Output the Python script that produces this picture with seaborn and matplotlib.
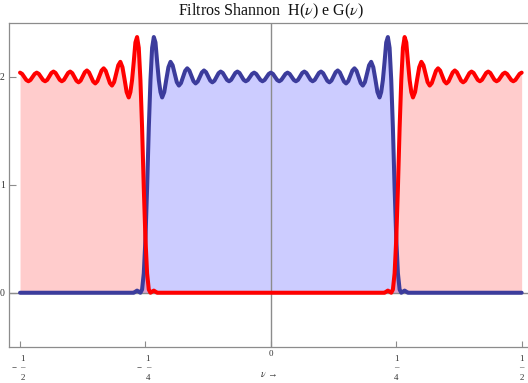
import matplotlib
matplotlib.use("Agg")
import matplotlib.pyplot as plt
import seaborn as sns

# Low-pass Shannon filter H(nu): level ~2 on |nu| < 1/4 with Gibbs ripples
nu_h = [-0.5000, -0.2733, -0.2700, -0.2667, -0.2633, -0.2600, -0.2567, -0.2533,
        -0.2500, -0.2467, -0.2433, -0.2400, -0.2367, -0.2333, -0.2300, -0.2267,
        -0.2233, -0.2200, -0.2167, -0.2125, -0.2083, -0.2042, -0.2000, -0.1958,
        -0.1875, -0.1833, -0.1792, -0.1708, -0.1667, -0.1625, -0.1542, -0.1500,
        -0.1458, -0.1375, -0.1333, -0.1292, -0.1208, -0.1167, -0.1125, -0.1042,
        -0.1000, -0.0958, -0.0875, -0.0833, -0.0792, -0.0708, -0.0667, -0.0625,
        -0.0542, -0.0500, -0.0458, -0.0375, -0.0333, -0.0292, -0.0208, -0.0167,
        -0.0125, -0.0042, 0.0000, 0.0042, 0.0125, 0.0167, 0.0208, 0.0292,
        0.0333, 0.0375, 0.0458, 0.0500, 0.0542, 0.0625, 0.0667, 0.0708,
        0.0792, 0.0833, 0.0875, 0.0958, 0.1000, 0.1042, 0.1125, 0.1167,
        0.1208, 0.1292, 0.1333, 0.1375, 0.1458, 0.1500, 0.1542, 0.1625,
        0.1667, 0.1708, 0.1792, 0.1833, 0.1875, 0.1958, 0.2000, 0.2042,
        0.2083, 0.2125, 0.2167, 0.2200, 0.2233, 0.2267, 0.2300, 0.2333,
        0.2367, 0.2400, 0.2433, 0.2467, 0.2500, 0.2533, 0.2567, 0.2600,
        0.2633, 0.2667, 0.2700, 0.2733, 0.5000]
h_vals = [0.00, 0.00, 0.01, 0.02, 0.01, 0.00, 0.03, 0.18,
          0.50, 0.97, 1.53, 1.97, 2.27, 2.37, 2.32, 2.14,
          1.97, 1.86, 1.81, 1.86, 1.98, 2.09, 2.14, 2.108,
          1.952, 1.92, 1.943, 2.057, 2.08, 2.059, 1.961, 1.94,
          1.958, 2.042, 2.06, 2.044, 1.966, 1.95, 1.965, 2.035,
          2.05, 2.037, 1.973, 1.96, 1.973, 2.037, 2.05, 2.037,
          1.973, 1.96, 1.972, 2.028, 2.04, 2.028, 1.972, 1.96,
          1.972, 2.028, 2.04, 2.028, 1.972, 1.96, 1.972, 2.028,
          2.04, 2.028, 1.972, 1.96, 1.973, 2.037, 2.05, 2.037,
          1.973, 1.96, 1.973, 2.037, 2.05, 2.035, 1.965, 1.95,
          1.966, 2.044, 2.06, 2.042, 1.958, 1.94, 1.961, 2.059,
          2.08, 2.057, 1.943, 1.92, 1.952, 2.108, 2.14, 2.09,
          1.98, 1.86, 1.81, 1.86, 1.97, 2.14, 2.32, 2.37,
          2.27, 1.97, 1.53, 0.97, 0.50, 0.18, 0.03, 0.00,
          0.01, 0.02, 0.01, 0.00, 0.00]

# High-pass Shannon filter G(nu): level ~2 on 1/4 < |nu| < 1/2
nu_g = [-0.5000, -0.4958, -0.4875, -0.4833, -0.4792, -0.4708, -0.4667, -0.4625,
        -0.4542, -0.4500, -0.4458, -0.4375, -0.4333, -0.4292, -0.4208, -0.4167,
        -0.4125, -0.4042, -0.4000, -0.3958, -0.3875, -0.3833, -0.3792, -0.3708,
        -0.3667, -0.3625, -0.3542, -0.3500, -0.3458, -0.3375, -0.3333, -0.3292,
        -0.3208, -0.3167, -0.3125, -0.3042, -0.3000, -0.2958, -0.2917, -0.2875,
        -0.2833, -0.2800, -0.2767, -0.2733, -0.2700, -0.2667, -0.2633, -0.2600,
        -0.2567, -0.2533, -0.2500, -0.2467, -0.2433, -0.2400, -0.2367, -0.2333,
        -0.2300, -0.2267, 0.2267, 0.2300, 0.2333, 0.2367, 0.2400, 0.2433,
        0.2467, 0.2500, 0.2533, 0.2567, 0.2600, 0.2633, 0.2667, 0.2700,
        0.2733, 0.2767, 0.2800, 0.2833, 0.2875, 0.2917, 0.2958, 0.3000,
        0.3042, 0.3125, 0.3167, 0.3208, 0.3292, 0.3333, 0.3375, 0.3458,
        0.3500, 0.3542, 0.3625, 0.3667, 0.3708, 0.3792, 0.3833, 0.3875,
        0.3958, 0.4000, 0.4042, 0.4125, 0.4167, 0.4208, 0.4292, 0.4333,
        0.4375, 0.4458, 0.4500, 0.4542, 0.4625, 0.4667, 0.4708, 0.4792,
        0.4833, 0.4875, 0.4958, 0.5000]
g_vals = [2.04, 2.028, 1.972, 1.96, 1.972, 2.028, 2.04, 2.028,
          1.972, 1.96, 1.973, 2.037, 2.05, 2.037, 1.973, 1.96,
          1.973, 2.037, 2.05, 2.035, 1.965, 1.95, 1.966, 2.044,
          2.06, 2.042, 1.958, 1.94, 1.961, 2.059, 2.08, 2.057,
          1.943, 1.92, 1.952, 2.108, 2.14, 2.09, 1.98, 1.86,
          1.81, 1.86, 1.97, 2.14, 2.32, 2.37, 2.27, 1.97,
          1.53, 0.97, 0.50, 0.18, 0.03, 0.00, 0.01, 0.02,
          0.01, 0.00, 0.00, 0.01, 0.02, 0.01, 0.00, 0.03,
          0.18, 0.50, 0.97, 1.53, 1.97, 2.27, 2.37, 2.32,
          2.14, 1.97, 1.86, 1.81, 1.86, 1.98, 2.09, 2.14,
          2.108, 1.952, 1.92, 1.943, 2.057, 2.08, 2.059, 1.961,
          1.94, 1.958, 2.042, 2.06, 2.044, 1.966, 1.95, 1.965,
          2.035, 2.05, 2.037, 1.973, 1.96, 1.973, 2.037, 2.05,
          2.037, 1.973, 1.96, 1.972, 2.028, 2.04, 2.028, 1.972,
          1.96, 1.972, 2.028, 2.04]

x_ticks = [-0.5, -0.25, 0.0, 0.25, 0.5]
x_nums = ["1", "1", "0", "1", "1"]
x_dens = ["2", "4", "", "4", "2"]
y_ticks = [0, 1, 2]
y_ticklabels = ["0", "1", "2"]

title_text = r"Filtros Shannon  H($\nu$) e G($\nu$)"
xlabel_text = r"$\nu$ →"

sns.set_style("white")
plt.rcParams["font.family"] = ["Liberation Serif", "DejaVu Serif"]
plt.rcParams["mathtext.fontset"] = "stix"

W, H = 528, 383
fig = plt.figure(figsize=(W / 100, H / 100), dpi=100)
ax = fig.add_axes([9 / W, (H - 346.7) / H, (532.7 - 9) / W, (346.7 - 23) / H])

col_h = "#3c3c9c"
col_g = "#ff0000"

ax.fill_between(nu_h, 0, h_vals, color="#0000ff", alpha=0.2, lw=0, zorder=1)
ax.fill_between(nu_g, 0, g_vals, color="#ff0000", alpha=0.2, lw=0, zorder=1)

ax.axvline(0, color="#8c8c8c", lw=1.0, zorder=1.5)
ax.axhline(0, color="#8c8c8c", lw=1.0, zorder=1.5)

sns.lineplot(x=nu_h, y=h_vals, ax=ax, color=col_h, lw=2.9, estimator=None,
             sort=False, solid_joinstyle="round", zorder=2)
sns.lineplot(x=nu_g, y=g_vals, ax=ax, color=col_g, lw=2.9, estimator=None,
             sort=False, solid_joinstyle="round", zorder=2.1)

ax.set_xlim(-0.522, 0.522)
ax.set_ylim(-0.5, 2.5)

for s in ax.spines.values():
    s.set_visible(True)
    s.set_color("#8c8c8c")
    s.set_linewidth(0.9)

ax.set_xticks(x_ticks)
ax.set_xticklabels([""] * len(x_ticks))
ax.set_yticks(y_ticks)
ax.set_yticklabels(y_ticklabels)
ax.tick_params(axis="both", direction="in", color="#8c8c8c", width=0.8)
ax.tick_params(axis="x", length=4.5, bottom=True, top=False)
ax.tick_params(axis="y", length=5, left=True, right=False, pad=3,
               labelsize=7, labelcolor="#333333")

# Stacked fraction tick labels along the bottom
lab_kw = dict(xycoords=("data", "axes fraction"), textcoords="offset points",
              ha="center", va="center", fontsize=6.5, color="#333333")
for t, num, den in zip(x_ticks, x_nums, x_dens):
    if den == "":
        ax.annotate(num, (t, 0), xytext=(0, -5.6), **lab_kw)
        continue
    dx = 1.8 if t < 0 else 0.0
    ax.annotate(num, (t, 0), xytext=(dx, -8.9), **lab_kw)
    ax.annotate("\u2013", (t, 0), xytext=(dx, -14.8), **lab_kw)
    ax.annotate(den, (t, 0), xytext=(dx, -22.2), **lab_kw)
    if t < 0:
        ax.annotate("\u2212", (t, 0), xytext=(-4.3, -14.8), **lab_kw)

ax.annotate(xlabel_text, (0.5, 0), xycoords="axes fraction",
            textcoords="offset points", xytext=(-1.5, -19.6), ha="center",
            va="center", fontsize=7, color="#333333")

fig.text(271 / W, (H - 15) / H, title_text, ha="center", va="baseline",
         fontsize=11.5, color="#111111")

fig.savefig("out.png", dpi=100)
